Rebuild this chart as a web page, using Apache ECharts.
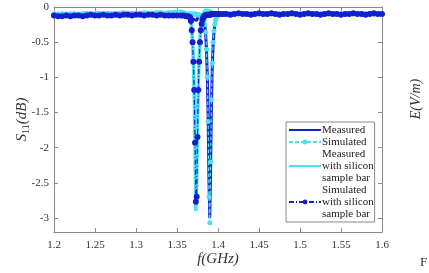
<!DOCTYPE html>
<html>
<head>
<meta charset="utf-8">
<script src="https://cdn.jsdelivr.net/npm/echarts@6/dist/echarts.min.js"></script>
<style>
  html, body { margin: 0; padding: 0; background: #fff; }
  #chart { width: 429px; height: 273px; }
</style>
</head>
<body>
<div id="chart"></div>
<script>
// frequency grid (GHz), denser around the two resonances
var freq = [
  1.200, 1.205, 1.210, 1.215, 1.220, 1.225, 1.230, 1.235, 1.240, 1.245,
  1.250, 1.255, 1.260, 1.265, 1.270, 1.275, 1.280, 1.285, 1.290, 1.295,
  1.300, 1.305, 1.310, 1.315, 1.320, 1.325, 1.330, 1.335, 1.340, 1.345,
  1.350, 1.355, 1.358, 1.361, 1.363, 1.365,
  1.366, 1.367, 1.368, 1.369, 1.370, 1.371, 1.372, 1.373, 1.374, 1.375,
  1.376, 1.377, 1.378, 1.379, 1.380, 1.381, 1.382, 1.383, 1.384, 1.385,
  1.386, 1.387, 1.388, 1.389, 1.390, 1.391, 1.392, 1.393, 1.394, 1.395,
  1.396, 1.397, 1.398, 1.399, 1.400, 1.403, 1.406,
  1.410, 1.415, 1.420, 1.425, 1.430, 1.435, 1.440, 1.445, 1.450, 1.455,
  1.460, 1.465, 1.470, 1.475, 1.480, 1.485, 1.490, 1.495, 1.500, 1.505,
  1.510, 1.515, 1.520, 1.525, 1.530, 1.535, 1.540, 1.545, 1.550, 1.555,
  1.560, 1.565, 1.570, 1.575, 1.580, 1.585, 1.590, 1.595, 1.600
]

// S11 (dB)
var measured = [
  -0.12, -0.13, -0.12, -0.13, -0.14, -0.12, -0.13, -0.12, -0.11, -0.12,
  -0.13, -0.12, -0.11, -0.12, -0.11, -0.12, -0.11, -0.10, -0.11, -0.12,
  -0.11, -0.12, -0.11, -0.12, -0.12, -0.11, -0.12, -0.12, -0.11, -0.12,
  -0.12, -0.13, -0.13, -0.14, -0.14, -0.15,
  -0.15, -0.16, -0.16, -0.17, -0.17, -0.18, -0.18, -0.19, -0.19, -0.20,
  -0.13, -0.13, -0.14, -0.14, -0.15, -0.16, -0.18, -0.21, -0.27, -0.40,
  -0.62, -1.0, -1.6, -2.5, -3.0, -2.3, -1.4, -0.85, -0.55, -0.37,
  -0.26, -0.20, -0.16, -0.14, -0.12, -0.11, -0.10,
  -0.10, -0.09, -0.10, -0.09, -0.10, -0.10, -0.09, -0.10, -0.11, -0.10,
  -0.09, -0.10, -0.10, -0.09, -0.10, -0.11, -0.10, -0.09, -0.10, -0.10,
  -0.09, -0.10, -0.09, -0.10, -0.11, -0.10, -0.09, -0.10, -0.09, -0.10,
  -0.10, -0.09, -0.10, -0.11, -0.10, -0.10, -0.11, -0.10, -0.10
]

var simulated = [
  -0.10, -0.10, -0.10, -0.10, -0.10, -0.10, -0.10, -0.10, -0.10, -0.10,
  -0.10, -0.10, -0.10, -0.10, -0.10, -0.10, -0.10, -0.10, -0.10, -0.10,
  -0.10, -0.10, -0.10, -0.10, -0.10, -0.10, -0.10, -0.10, -0.10, -0.10,
  -0.10, -0.10, -0.10, -0.10, -0.10, -0.10,
  -0.10, -0.10, -0.10, -0.10, -0.10, -0.10, -0.10, -0.10, -0.11, -0.11,
  -0.11, -0.11, -0.12, -0.12, -0.13, -0.14, -0.16, -0.19, -0.25, -0.36,
  -0.60, -1.0, -1.63, -2.7, -3.07, -2.2, -1.32, -0.80, -0.50, -0.34,
  -0.25, -0.19, -0.15, -0.13, -0.12, -0.10, -0.10,
  -0.10, -0.10, -0.10, -0.10, -0.10, -0.10, -0.10, -0.10, -0.10, -0.10,
  -0.10, -0.10, -0.10, -0.10, -0.10, -0.10, -0.10, -0.10, -0.10, -0.10,
  -0.10, -0.10, -0.10, -0.10, -0.10, -0.10, -0.10, -0.10, -0.10, -0.10,
  -0.10, -0.10, -0.10, -0.10, -0.10, -0.10, -0.10, -0.10, -0.10
]

var measuredSi = [
  -0.09, -0.10, -0.09, -0.10, -0.09, -0.09, -0.10, -0.09, -0.08, -0.09,
  -0.09, -0.08, -0.09, -0.08, -0.09, -0.08, -0.08, -0.07, -0.08, -0.08,
  -0.08, -0.08, -0.07, -0.08, -0.08, -0.07, -0.07, -0.08, -0.07, -0.07,
  -0.06, -0.06, -0.07, -0.08, -0.10, -0.12,
  -0.15, -0.20, -0.32, -0.50, -0.80, -1.25, -2.0, -2.9, -2.5, -1.7,
  -1.1, -0.72, -0.46, -0.30, -0.20, -0.14, -0.10, -0.07, -0.05, -0.04,
  -0.04, -0.04, -0.05, -0.05, -0.06, -0.06, -0.07, -0.07, -0.08, -0.08,
  -0.08, -0.08, -0.08, -0.09, -0.09, -0.09, -0.09,
  -0.09, -0.09, -0.09, -0.09, -0.09, -0.09, -0.09, -0.09, -0.09, -0.09,
  -0.09, -0.09, -0.09, -0.09, -0.09, -0.09, -0.09, -0.09, -0.09, -0.09,
  -0.09, -0.09, -0.09, -0.09, -0.09, -0.09, -0.09, -0.09, -0.09, -0.09,
  -0.09, -0.09, -0.09, -0.09, -0.09, -0.09, -0.09, -0.09, -0.09
]

var simulatedSi = [
  -0.12, -0.13, -0.13, -0.12, -0.13, -0.12, -0.12, -0.13, -0.12, -0.11,
  -0.12, -0.12, -0.11, -0.12, -0.12, -0.11, -0.12, -0.11, -0.11, -0.12,
  -0.11, -0.11, -0.12, -0.11, -0.11, -0.12, -0.11, -0.12, -0.12, -0.12,
  -0.12, -0.12, -0.12, -0.13, -0.13, -0.14,
  -0.15, -0.20, -0.33, -0.50, -0.78, -1.18, -1.93, -2.77, -2.70, -1.85,
  -1.18, -0.78, -0.50, -0.33, -0.24, -0.18, -0.15, -0.13, -0.12, -0.12,
  -0.11, -0.11, -0.11, -0.11, -0.11, -0.11, -0.10, -0.10, -0.10, -0.10,
  -0.10, -0.10, -0.10, -0.10, -0.10, -0.10, -0.10,
  -0.10, -0.11, -0.10, -0.09, -0.10, -0.10, -0.11, -0.10, -0.09, -0.10,
  -0.10, -0.09, -0.10, -0.11, -0.10, -0.10, -0.09, -0.10, -0.11, -0.10,
  -0.09, -0.10, -0.10, -0.11, -0.10, -0.09, -0.10, -0.10, -0.11, -0.10,
  -0.10, -0.09, -0.10, -0.10, -0.11, -0.10, -0.09, -0.10, -0.10
]

var yTicks = [0, -0.5, -1, -1.5, -2, -2.5, -3]

var names = [
  'Measured',
  'Simulated',
  'Measured\nwith silicon\nsample bar',
  'Simulated\nwith silicon\nsample bar'
]

var darkBlue = '#1420cc'
var cyan = '#48e2f0'
var axisColor = '#8a8a8a'
var font = '"Liberation Serif", "DejaVu Serif", serif'

function pairs(ys) {
  return freq.map(function (f, i) { return [f, ys[i]] })
}

var chart = echarts.init(document.getElementById('chart'))

var xBase = {
  type: 'value',
  min: 1.2,
  max: 1.6,
  interval: 0.05,
  axisLine: { show: true, onZero: false, lineStyle: { color: axisColor, width: 1 } },
  axisTick: { show: true, inside: true, length: 4, lineStyle: { color: axisColor } },
  splitLine: { show: false }
}

var yBase = {
  type: 'value',
  min: -3.2,
  max: 0,
  axisLine: { show: true, onZero: false, lineStyle: { color: axisColor, width: 1 } },
  axisTick: { show: true, inside: true, length: 4, customValues: yTicks, lineStyle: { color: axisColor } },
  splitLine: { show: false }
}

var options = {
  animation: false,
  backgroundColor: '#fff',
  grid: { left: 54, right: 47, top: 7, bottom: 41, outerBoundsMode: 'none' },
  xAxis: [
    Object.assign({}, xBase, {
      position: 'bottom',
      axisLabel: { color: '#333', fontFamily: font, fontSize: 11, margin: 8 },
      name: 'f(GHz)',
      nameLocation: 'middle',
      nameGap: 20,
      nameMoveOverlap: false,
      nameTextStyle: { color: '#333', fontFamily: font, fontSize: 15, fontStyle: 'italic' }
    }),
    Object.assign({}, xBase, {
      position: 'top',
      axisLabel: { show: false }
    })
  ],
  yAxis: [
    Object.assign({}, yBase, {
      position: 'left',
      axisLabel: {
        color: '#333', fontFamily: font, fontSize: 11, margin: 5,
        customValues: yTicks
      },
      name: '{s|S}{sub|11}{s|(dB)}',
      nameLocation: 'middle',
      nameGap: 23,
      nameMoveOverlap: false,
      nameTextStyle: {
        rich: {
          s: { color: '#333', fontFamily: font, fontSize: 15, fontStyle: 'italic' },
          sub: { color: '#333', fontFamily: font, fontSize: 10, verticalAlign: 'bottom', padding: [7, 0, 0, 0] }
        }
      }
    }),
    Object.assign({}, yBase, {
      position: 'right',
      axisLabel: { show: false }
    })
  ],
  legend: {
    data: [
      { name: names[0], itemStyle: { opacity: 0 } },
      { name: names[1] },
      { name: names[2], itemStyle: { opacity: 0 } },
      { name: names[3] }
    ],
    orient: 'vertical',
    left: 286,
    top: 122,
    padding: [2, 1, 2, 2],
    itemGap: 0,
    itemWidth: 32,
    itemHeight: 6,
    backgroundColor: '#fff',
    borderColor: '#8a8a8a',
    borderWidth: 1,
    borderRadius: 0,
    textStyle: { color: '#222', fontFamily: font, fontSize: 11, lineHeight: 12, padding: [0, 0, 0, -4] }
  },
  graphic: [
    {
      type: 'text',
      x: 416,
      y: 99,
      rotation: Math.PI / 2,
      style: {
        text: 'E(V/m)',
        fill: '#333',
        font: 'italic 14px "Liberation Serif"',
        align: 'center',
        verticalAlign: 'middle'
      }
    },
    {
      type: 'text',
      x: 420,
      y: 263,
      style: {
        text: 'F',
        fill: '#333',
        font: '13px "Liberation Serif"',
        align: 'left',
        verticalAlign: 'middle'
      }
    }
  ],
  series: [
    {
      name: names[0],
      type: 'line',
      data: pairs(measured),
      symbol: 'none',
      color: darkBlue,
      lineStyle: { color: darkBlue, width: 3 },
      z: 2
    },
    {
      name: names[1],
      type: 'line',
      data: pairs(simulated),
      symbol: 'circle',
      symbolSize: 5,
      showAllSymbol: true,
      color: cyan,
      itemStyle: { color: cyan },
      lineStyle: { color: cyan, width: 1.2, type: [4, 2] },
      z: 3
    },
    {
      name: names[2],
      type: 'line',
      data: pairs(measuredSi),
      symbol: 'none',
      color: cyan,
      lineStyle: { color: cyan, width: 3.5 },
      z: 4
    },
    {
      name: names[3],
      type: 'line',
      data: pairs(simulatedSi),
      symbol: 'circle',
      symbolSize: 6,
      showAllSymbol: true,
      color: darkBlue,
      itemStyle: { color: darkBlue },
      lineStyle: { color: darkBlue, width: 1.2, type: [5, 2, 1, 2] },
      z: 5
    }
  ]
}

chart.setOption(options)
window.addEventListener('resize', function () {
  chart.resize()
})
</script>
</body>
</html>
